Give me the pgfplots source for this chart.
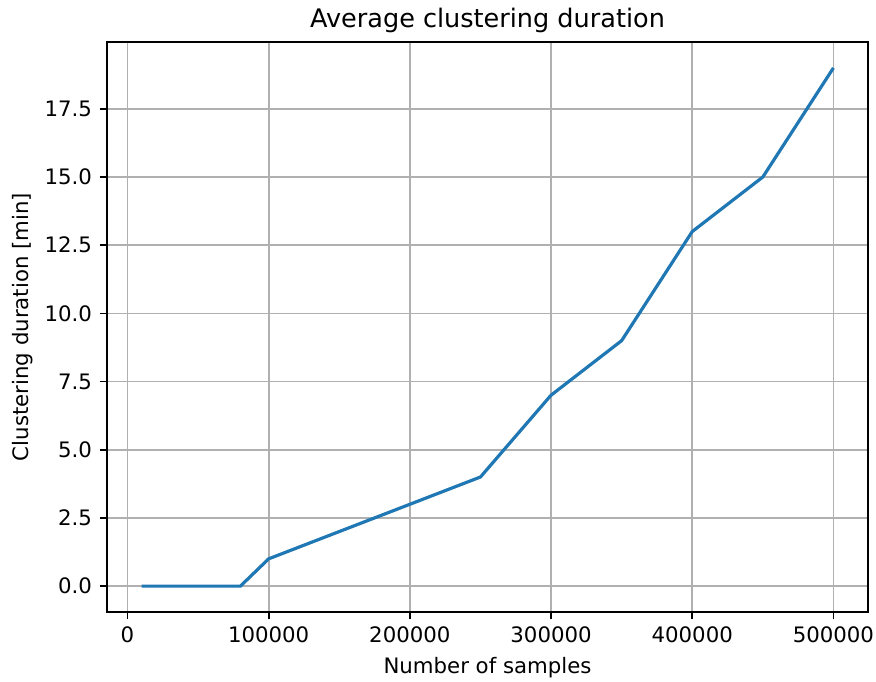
\documentclass[border=0pt]{standalone}
\usepackage{fontspec}
\setmainfont{DejaVu Sans}
\usepackage{pgfplots}
\pgfplotsset{compat=1.18}
\definecolor{mplblue}{HTML}{1F77B4}
\definecolor{mplgrid}{HTML}{B0B0B0}
\begin{document}
\begin{tikzpicture}[x=0.47pt,y=0.47pt]
\useasboundingbox (0,0) rectangle (876,681);
\begin{axis}[
  at={(107*0.47pt,69*0.47pt)}, anchor=south west,
  width=761*0.47pt, height=570*0.47pt, scale only axis,
  xmin=-14500, xmax=524500, ymin=-0.95, ymax=19.95,
  xtick={0,100000,200000,300000,400000,500000},
  ytick={0,2.5,5,7.5,10,12.5,15,17.5},
  scaled x ticks=false,
  xticklabel style={/pgf/number format/.cd,fixed,set thousands separator={}},
  yticklabel style={/pgf/number format/.cd,fixed,fixed zerofill,precision=1},
  /pgf/number format/assume math mode=true,
  tick align=outside, major tick length=3.5pt,
  tick style={black, line width=0.8pt},
  xtick pos=bottom, ytick pos=left,
  axis line style={line width=0.8pt},
  grid=major, major grid style={mplgrid, line width=0.8pt},
  ticklabel style={font=\fontsize{10}{12}\selectfont},
  xlabel={Number of samples}, ylabel={Clustering duration [min]},
  label style={font=\fontsize{10}{12}\selectfont},
  ylabel style={xshift=0pt, yshift=-1.5pt},
  title={Average clustering duration},
  title style={font=\fontsize{12}{14}\selectfont, at={(0.5,1)}, anchor=base, yshift=0.6pt},
]
\addplot[mplblue, line width=1.5pt] coordinates {
(10000,0) (20000,0) (30000,0) (40000,0) (50000,0) (60000,0) (70000,0) (80000,0)
(100000,1) (200000,3) (250000,4) (300000,7) (350000,9) (400000,13) (450000,15) (500000,19)
};
\end{axis}
\end{tikzpicture}
\end{document}
